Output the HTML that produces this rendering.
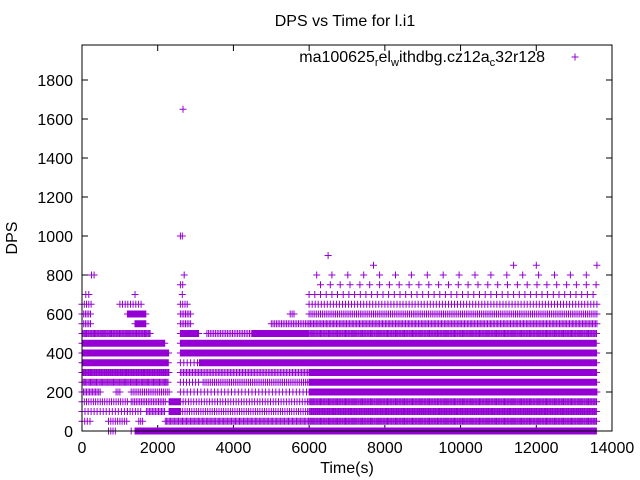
<!DOCTYPE html>
<html><head><meta charset="utf-8">
<style>
body{margin:0;background:#fff}
svg{display:block;font-family:"Liberation Sans",sans-serif}
</style></head><body>
<svg id="chart" width="640" height="480" viewBox="0 0 640 480">
<rect width="640" height="480" fill="#fff"/>
<text x="345" y="26" font-size="16" text-anchor="middle">DPS vs Time for l.i1</text>
<text x="347" y="473" font-size="16" text-anchor="middle">Time(s)</text>
<text transform="translate(17,238) rotate(-90)" font-size="16" text-anchor="middle">DPS</text>
<g id="axes"></g>
<g id="points"></g>
<rect x="82" y="45" width="530" height="386" fill="none" stroke="#000" stroke-width="1"/>
<g>
<text x="545" y="62" font-size="16" text-anchor="end">ma100625<tspan font-size="11" dy="4">r</tspan><tspan dy="-4">el</tspan><tspan font-size="11" dy="4">w</tspan><tspan dy="-4">ithdbg.cz12a</tspan><tspan font-size="11" dy="4">c</tspan><tspan dy="-4">32r128</tspan></text>
<path d="M571.5 57H578.5M575 53.5V60.5" stroke="#9400d3" stroke-width="1"/>
</g>
</svg>
<script>
const xTicks=[0,2000,4000,6000,8000,10000,12000,14000];
const yTicks=[0,200,400,600,800,1000,1200,1400,1600,1800];
const levels=[0,50,100,150,200,250,300,350,400,450,500,550,600,650,700,750,800,850];
// ranges per level: [startTime, endTime, spacing]
const ranges=[
 [[700,900,60],[1300,1300,50],[1400,13600,22]],
 [[0,250,70],[700,1200,60],[1500,1600,50],[2200,6000,35],[6000,13600,30]],
 [[0,1200,80],[1200,1600,70],[1700,2200,40],[2300,2600,20],[2600,6000,60],[6000,13600,28]],
 [[0,1200,60],[1300,2200,45],[2300,2600,20],[2600,6000,70],[6000,13600,30]],
 [[0,500,40],[900,1000,50],[1300,2300,50],[2600,6000,90],[6000,13600,20]],
 [[0,2300,32],[2600,3100,80],[3200,6000,50],[6000,13600,26]],
 [[0,2300,28],[2600,6000,40],[6000,13600,26]],
 [[0,2300,24],[2600,3100,90],[3100,6000,24],[6000,13600,26]],
 [[0,2300,22],[2600,6000,22],[6000,13600,26]],
 [[0,2200,24],[2600,6000,22],[6000,13600,24]],
 [[0,1800,30],[2600,3100,24],[3300,4500,45],[4500,6000,24],[6000,13600,30]],
 [[0,250,45],[1400,1700,22],[2600,2900,45],[5000,6000,45],[6000,13600,38]],
 [[0,250,45],[1200,1700,22],[2600,2900,45],[5500,5600,50],[6000,13600,50]],
 [[0,250,60],[1000,1600,70],[2600,2800,60],[6000,13600,80]],
 [[100,250,80],[1400,1400,50],[2650,2650,50],[6000,13600,150]],
 [[2600,2700,60],[6300,13600,260]],
 [[250,350,70],[2700,2700,50],[6200,6200,50],[6600,13600,420]],
 [[7700,7700,50],[11400,11400,50],[12000,12000,50],[13600,13600,50]]
];
const outlierTimes=[2600,2650,2668,6500];
const outlierValues=[1000,1000,1650,900];

const X0=82,X1=612,Y0=431,XMAX=14000,YK=0.195;
const NS="http://www.w3.org/2000/svg";
function xs(t){return X0+t/XMAX*(X1-X0);}
function ys(v){return Y0-v*YK;}
const axes=document.getElementById('axes');
const pts=document.getElementById('points');
let ad="";
xTicks.forEach(t=>{
  const x=xs(t);
  ad+=`M${x} ${Y0}V${Y0-6}M${x} 45V51`;
  const tx=document.createElementNS(NS,'text');
  tx.setAttribute('x',x);tx.setAttribute('y',453);
  tx.setAttribute('font-size','16');tx.setAttribute('text-anchor','middle');
  tx.textContent=t;
  
  
  axes.appendChild(tx);
});
yTicks.forEach(v=>{
  const y=ys(v);
  ad+=`M${X0} ${y}H${X0+6}M${X1} ${y}H${X1-6}`;
  const tx=document.createElementNS(NS,'text');
  tx.setAttribute('x',73);tx.setAttribute('y',y+6);
  tx.setAttribute('font-size','16');tx.setAttribute('text-anchor','end');
  tx.textContent=v;
  
  
  axes.appendChild(tx);
});
const tp=document.createElementNS(NS,'path');
tp.setAttribute('d',ad);tp.setAttribute('stroke','#000');tp.setAttribute('fill','none');


axes.appendChild(tp);

function plus(t,v){const x=xs(t),y=ys(v);return `M${(x-3.5).toFixed(1)} ${y.toFixed(1)}h7M${x.toFixed(1)} ${(y-3.5).toFixed(1)}v7`;}
levels.forEach((lv,i)=>{
  (ranges[i]||[]).forEach(r=>{
    let d="";
    for(let t=r[0];t<=r[1];t+=r[2]) d+=plus(t,lv);
    const p=document.createElementNS(NS,'path');
    p.setAttribute('d',d);p.setAttribute('stroke','#9400d3');p.setAttribute('fill','none');p.setAttribute('stroke-width','1');
    
    
    pts.appendChild(p);
  });
});
outlierTimes.forEach((t,i)=>{
  const p=document.createElementNS(NS,'path');
  p.setAttribute('d',plus(t,outlierValues[i]));p.setAttribute('stroke','#9400d3');p.setAttribute('fill','none');
  
  
  pts.appendChild(p);
});
</script>
</body></html>
